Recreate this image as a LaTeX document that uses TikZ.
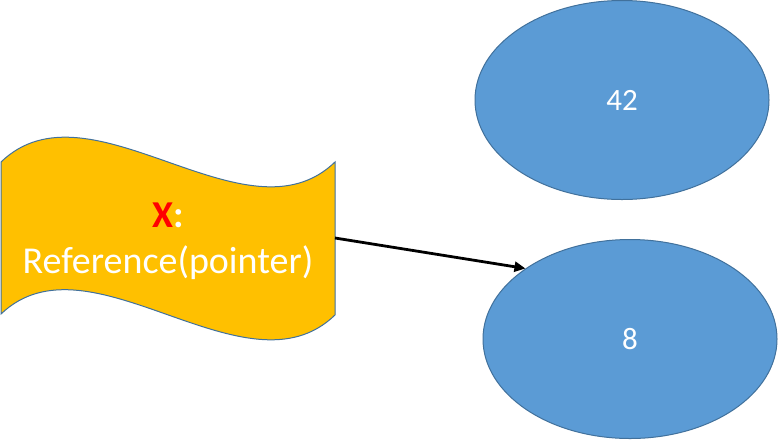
\documentclass[tikz,border=0pt]{standalone}
\usepackage{fontspec}
\setmainfont{Carlito}
\usetikzlibrary{shapes.geometric,arrows.meta}
\definecolor{blfill}{HTML}{5B9BD5}
\definecolor{blline}{HTML}{41719C}
\definecolor{gold}{HTML}{FFC000}
\begin{document}
\begin{tikzpicture}[x=1pt,y=-1pt,
  oval/.style={ellipse, draw=blline, fill=blfill, line width=1pt,
    minimum width=294pt, minimum height=199pt, inner sep=0pt,
    text=white, font=\fontsize{31}{36}\selectfont},
  wavebox/.style={draw=blline, fill=gold, line width=1pt},
  wavetext/.style={align=center, inner sep=0pt, text=white,
    font=\fontsize{38}{46}\selectfont},
  link/.style={-{Triangle[length=11pt,width=10pt]}, line width=2.8pt, black}]
\useasboundingbox (0,0) rectangle (778,440);
\fill[white] (0,0) rectangle (778,440);
% wave shape
\draw[wavebox] (1,162) .. controls (90,76) and (246,248) .. (335,162)
  -- (335,315) .. controls (246,401) and (90,229) .. (1,314) -- cycle;
\coordinate (wr) at (335,238);
\node[wavetext] (t) at (168,241) {\textcolor{red}{\textbf{X}}\textbf{:}\\Reference(pointer)};
% ellipses
\node[oval] (a) at (622,100) {42};
\node[oval] (b) at (630,339) {8};
% arrow
\draw[link] (wr) -- (b.146);
\end{tikzpicture}
\end{document}
